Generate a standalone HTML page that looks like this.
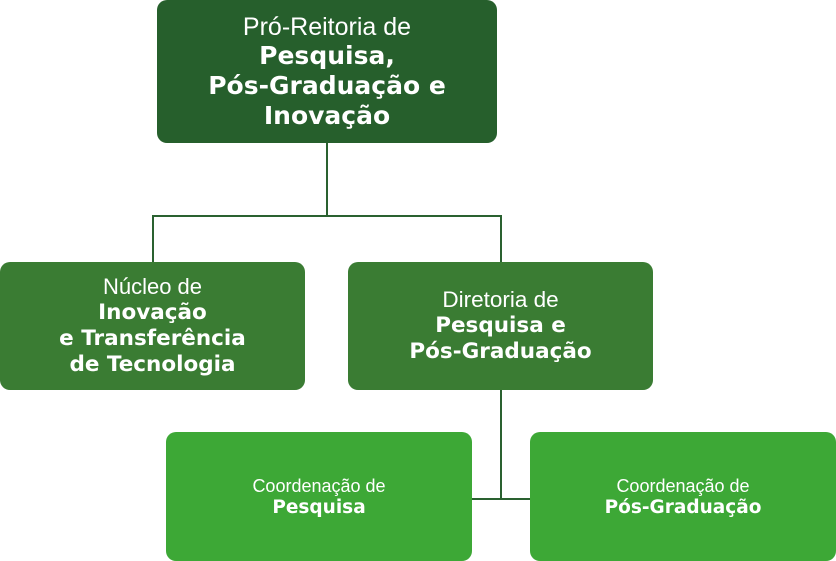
<!DOCTYPE html>
<html><head><meta charset="utf-8"><style>
body{margin:0;width:836px;height:561px;background:#fff;position:relative;overflow:hidden;font-family:"Liberation Sans",sans-serif;color:#fff}
.b{position:absolute;border-radius:10px;display:flex;flex-direction:column;align-items:center;justify-content:center;text-align:center}
.l{position:absolute;background:#2a6130}
b{font-family:"DejaVu Sans","Liberation Sans",sans-serif;font-weight:bold}
</style></head><body>
<div class="l" style="left:326px;top:143px;width:2px;height:74px"></div>
<div class="l" style="left:152px;top:215px;width:350px;height:2px"></div>
<div class="l" style="left:152px;top:215px;width:2px;height:48px"></div>
<div class="l" style="left:500px;top:215px;width:2px;height:48px"></div>
<div class="l" style="left:500px;top:390px;width:2px;height:110px"></div>
<div class="l" style="left:471px;top:498px;width:60px;height:2px"></div>

<div class="b" style="left:157px;top:0;width:340px;height:143px;background:#265f2c">
<div style="font-size:25px;line-height:28px">Pró-Reitoria de</div>
<b style="font-size:25px;line-height:30px">Pesquisa,<br>Pós-Graduação e<br>Inovação</b></div>

<div class="b" style="left:0;top:262px;width:305px;height:128px;background:#3a7c33">
<div style="font-size:22px;line-height:26px">Núcleo de</div>
<b style="font-size:21.5px;line-height:26px">Inovação<br>e Transferência<br>de Tecnologia</b></div>

<div class="b" style="left:348px;top:262px;width:305px;height:128px;background:#3a7c33">
<div style="font-size:22.5px;line-height:26px">Diretoria de</div>
<b style="font-size:21.5px;line-height:26px">Pesquisa e<br>Pós-Graduação</b></div>

<div class="b" style="left:166px;top:432px;width:306px;height:129px;background:#3da836">
<div style="font-size:18px;line-height:22px">Coordenação de</div>
<b style="font-size:18.5px;line-height:22px">Pesquisa</b></div>

<div class="b" style="left:530px;top:432px;width:306px;height:129px;background:#3da836">
<div style="font-size:18px;line-height:22px">Coordenação de</div>
<b style="font-size:18.5px;line-height:22px">Pós-Graduação</b></div>
</body></html>
